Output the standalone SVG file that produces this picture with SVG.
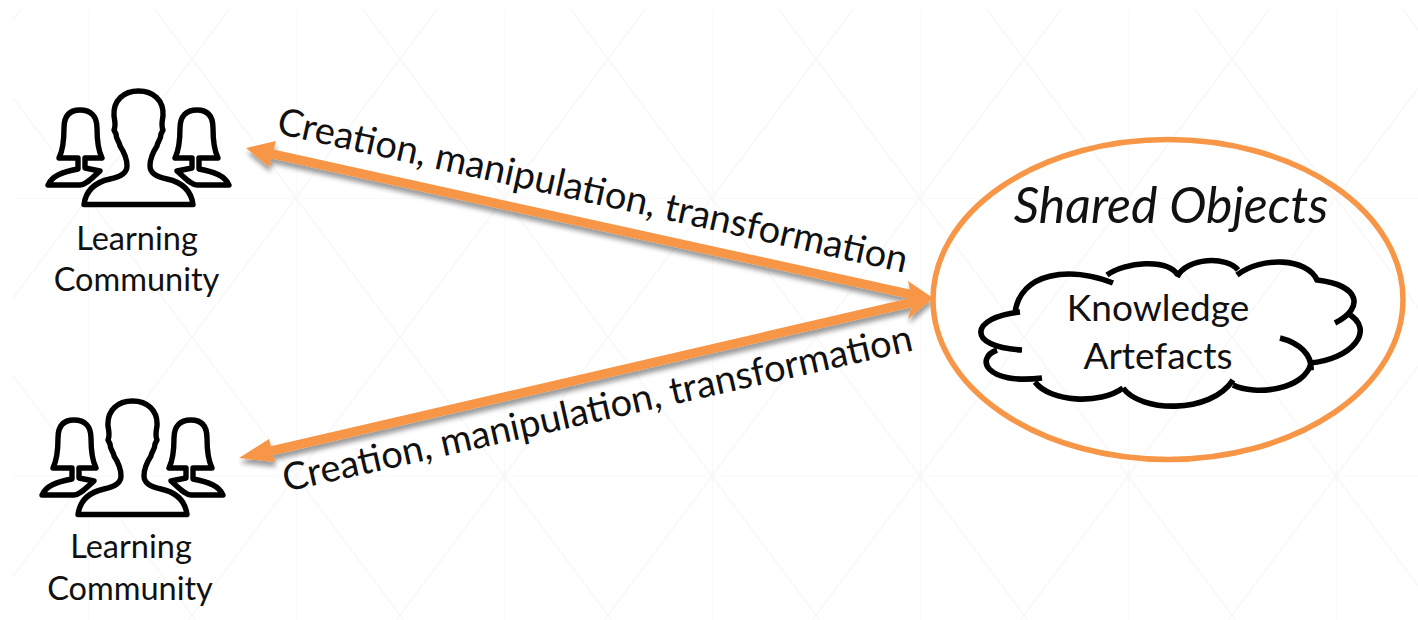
<svg xmlns="http://www.w3.org/2000/svg" xmlns:xlink="http://www.w3.org/1999/xlink" width="1418" height="620" viewBox="0 0 1418 620">
<style>
text{font-family:"Lato","Open Sans","Liberation Sans",sans-serif;fill:#111;text-anchor:middle}
.lab{font-size:32.500px}
.rot{font-size:38px}
.art{font-size:37px}
.ico{fill:#fff;stroke:#000;stroke-width:5.400;stroke-linejoin:round}
.arr{stroke:#f79646;stroke-width:9;fill:none}
.hd{fill:#f79646}
</style>
<defs>
<pattern id="grid" patternUnits="userSpaceOnUse" x="88" y="198" width="208" height="278">
<path d="M0 0H208M0 0V278M0 0L208 278M0 278L208 0" fill="none" stroke="#f7f7f7" stroke-width="1.400"/>
</pattern>
<filter id="sh" x="-5%" y="-20%" width="110%" height="150%">
<feGaussianBlur in="SourceAlpha" stdDeviation="2.500"/>
<feOffset dx="1" dy="5"/>
<feComponentTransfer><feFuncA type="linear" slope="0.4"/></feComponentTransfer>
<feMerge><feMergeNode/><feMergeNode in="SourceGraphic"/></feMerge>
</filter>
<g id="people">
<path class="ico" d="M48 185C52 176 62 172 78 169L78 158H59C63 150 64 142 64 128C64 115 70 110 80 110C91 110 97 116 97 128C97 142 98 150 102 158H85L85 168L100 171C92 178 86 185 80 185Z"/>
<path class="ico" transform="matrix(-1 0 0 1 277 0)" d="M48 185C52 176 62 172 78 169L78 158H59C63 150 64 142 64 128C64 115 70 110 80 110C91 110 97 116 97 128C97 142 98 150 102 158H85L85 168L100 171C92 178 86 185 80 185Z"/>
<path class="ico" d="M84 204.500C86 190 96 182 110 179C120 177 127 173 127 166C127 158 124 152 120 146C120 142 116 140 116 134L114 130C116 126 115 122 114 116C113 100 124 91 138.500 91C153 91 164 100 163 116C162 122 161 126 163 130L161 134C161 140 157 142 157 146C153 152 150 158 150 166C150 173 157 177 167 179C181 182 191 190 193 204.500Z"/>
</g>
</defs>
<rect id="bg" width="1418" height="620" fill="#fff"/>
<rect x="13" y="10" width="1405" height="610" fill="url(#grid)"/>

<g id="connectors">
<g filter="url(#sh)">
<path class="arr" d="M268 153L918 296M262 453L918 301"/>
<path class="hd" d="M246 148L276 141L269 167Z"/>
<path class="hd" d="M239 458L269 439L275 462Z"/>
<path class="hd" d="M933 298L908 281L911 296L912 304L908 319Z"/>
</g>
<text class="rot" transform="translate(590 203) rotate(12.500)">Creation, manipulation, transformation</text>
<text class="rot" transform="translate(600 421) rotate(-12.700)">Creation, manipulation, transformation</text>
</g>

<g id="community-top">
<use xlink:href="#people" href="#people"/>
<text class="lab" x="137" y="250">Learning</text>
<text class="lab" x="136.500" y="291">Community</text>
</g>
<g id="community-bottom">
<use xlink:href="#people" href="#people" x="-6" y="310"/>
<text class="lab" x="131" y="558">Learning</text>
<text class="lab" x="130" y="600">Community</text>
</g>

<g id="shared-objects">
<ellipse cx="1168" cy="299.500" rx="235" ry="160" fill="none" stroke="#f79646" stroke-width="5.500"/>
<text x="1171" y="223" font-size="50" font-style="italic">Shared Objects</text>
</g>
<g id="knowledge-artefacts">
<path fill="none" stroke="#000" stroke-width="5.600" stroke-linecap="butt" d="M1113 283C1070 266 1020 272 1015 313M1020 312C970 317 965 347 1022 350M997 350C975 358 985 385 1042 378M1035 382C1050 402 1100 405 1123 388M1123 388C1140 412 1210 415 1233 380M1233 385C1255 396 1305 390 1311 363M1280 338C1300 343 1312 355 1311 370M1310 363C1350 360 1378 330 1347 313M1335 323C1365 308 1360 285 1317 280C1307 258 1262 256 1237 275M1238 270C1227 256 1187 257 1177 277M1178 275C1167 258 1125 262 1107 275"/>
<text class="art" x="1158" y="321">Knowledge</text>
<text class="art" x="1158" y="369">Artefacts</text>
</g>
</svg>
